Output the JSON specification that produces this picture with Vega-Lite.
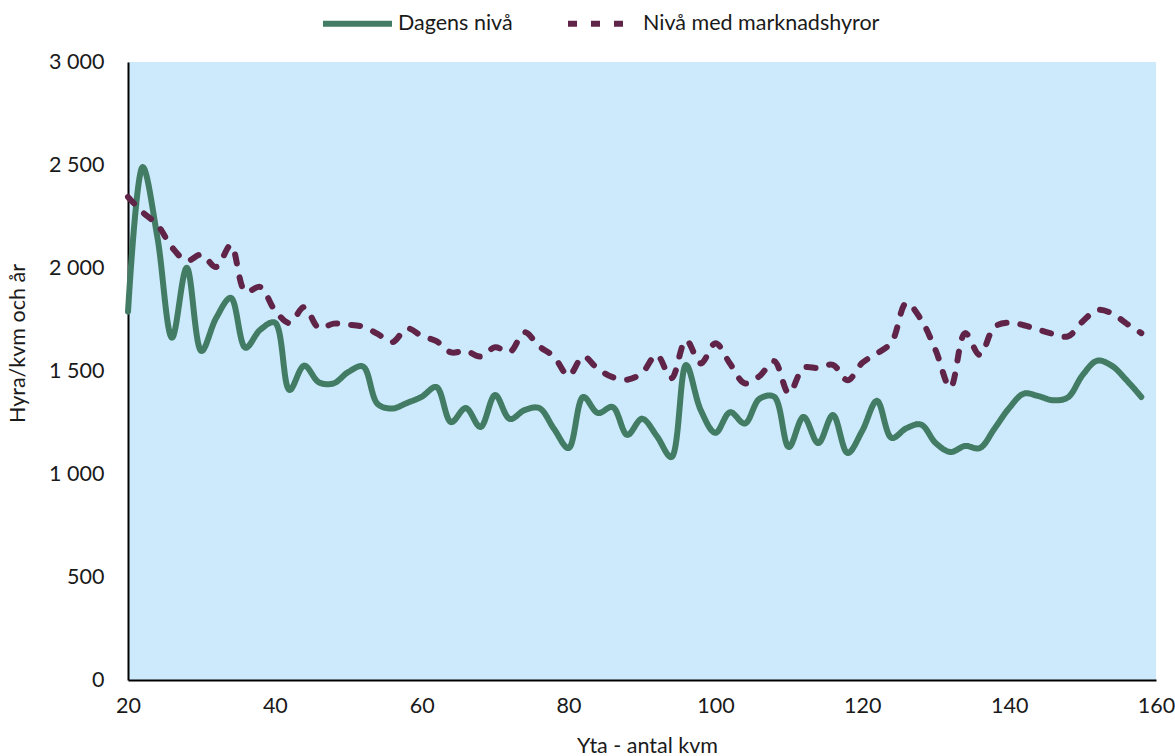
{
  "$schema": "https://vega.github.io/schema/vega-lite/v6.json",
  "width": 1028,
  "height": 618,
  "autosize": "none",
  "padding": {"left": 128, "top": 62, "right": 19, "bottom": 76},
  "background": "white",
  "config": {
    "view": {"fill": "#cceafb", "stroke": null},
    "font": "Lato",
    "axis": {"labelColor": "#1a1a1a", "titleColor": "#1a1a1a", "labelFont": "Lato", "titleFont": "Lato", "titleFontWeight": "normal"},
    "legend": {"labelColor": "#1a1a1a", "labelFont": "Lato"}
  },
  "data": {
    "values": [
      {"kvm": 20, "Dagens nivå": 1788, "Nivå med marknadshyror": 2345},
      {"kvm": 22, "Dagens nivå": 2490, "Nivå med marknadshyror": 2270},
      {"kvm": 24, "Dagens nivå": 2150, "Nivå med marknadshyror": 2210},
      {"kvm": 26, "Dagens nivå": 1662, "Nivå med marknadshyror": 2100},
      {"kvm": 28, "Dagens nivå": 2001, "Nivå med marknadshyror": 2035},
      {"kvm": 30, "Dagens nivå": 1597, "Nivå med marknadshyror": 2065},
      {"kvm": 32, "Dagens nivå": 1757, "Nivå med marknadshyror": 2005},
      {"kvm": 34, "Dagens nivå": 1855, "Nivå med marknadshyror": 2110},
      {"kvm": 36, "Dagens nivå": 1613, "Nivå med marknadshyror": 1885},
      {"kvm": 38, "Dagens nivå": 1700, "Nivå med marknadshyror": 1908},
      {"kvm": 40, "Dagens nivå": 1735, "Nivå med marknadshyror": 1795},
      {"kvm": 42, "Dagens nivå": 1408, "Nivå med marknadshyror": 1733},
      {"kvm": 44, "Dagens nivå": 1526, "Nivå med marknadshyror": 1810},
      {"kvm": 46, "Dagens nivå": 1445, "Nivå med marknadshyror": 1709},
      {"kvm": 48, "Dagens nivå": 1440, "Nivå med marknadshyror": 1730},
      {"kvm": 50, "Dagens nivå": 1495, "Nivå med marknadshyror": 1725},
      {"kvm": 52, "Dagens nivå": 1522, "Nivå med marknadshyror": 1715},
      {"kvm": 54, "Dagens nivå": 1340, "Nivå med marknadshyror": 1680},
      {"kvm": 56, "Dagens nivå": 1318, "Nivå med marknadshyror": 1640},
      {"kvm": 58, "Dagens nivå": 1345, "Nivå med marknadshyror": 1707},
      {"kvm": 60, "Dagens nivå": 1375, "Nivå med marknadshyror": 1670},
      {"kvm": 62, "Dagens nivå": 1422, "Nivå med marknadshyror": 1645},
      {"kvm": 64, "Dagens nivå": 1252, "Nivå med marknadshyror": 1590},
      {"kvm": 66, "Dagens nivå": 1320, "Nivå med marknadshyror": 1598},
      {"kvm": 68, "Dagens nivå": 1228, "Nivå med marknadshyror": 1570},
      {"kvm": 70, "Dagens nivå": 1383, "Nivå med marknadshyror": 1615},
      {"kvm": 72, "Dagens nivå": 1267, "Nivå med marknadshyror": 1592},
      {"kvm": 74, "Dagens nivå": 1310, "Nivå med marknadshyror": 1688},
      {"kvm": 76, "Dagens nivå": 1320, "Nivå med marknadshyror": 1620},
      {"kvm": 78, "Dagens nivå": 1220, "Nivå med marknadshyror": 1570},
      {"kvm": 80, "Dagens nivå": 1126, "Nivå med marknadshyror": 1478},
      {"kvm": 82, "Dagens nivå": 1374, "Nivå med marknadshyror": 1570},
      {"kvm": 84, "Dagens nivå": 1296, "Nivå med marknadshyror": 1510},
      {"kvm": 86, "Dagens nivå": 1325, "Nivå med marknadshyror": 1470},
      {"kvm": 88, "Dagens nivå": 1190, "Nivå med marknadshyror": 1458},
      {"kvm": 90, "Dagens nivå": 1268, "Nivå med marknadshyror": 1490},
      {"kvm": 92, "Dagens nivå": 1185, "Nivå med marknadshyror": 1578},
      {"kvm": 94, "Dagens nivå": 1082, "Nivå med marknadshyror": 1465},
      {"kvm": 96, "Dagens nivå": 1529, "Nivå med marknadshyror": 1650},
      {"kvm": 98, "Dagens nivå": 1310, "Nivå med marknadshyror": 1537},
      {"kvm": 100, "Dagens nivå": 1200, "Nivå med marknadshyror": 1635},
      {"kvm": 102, "Dagens nivå": 1300, "Nivå med marknadshyror": 1535},
      {"kvm": 104, "Dagens nivå": 1245, "Nivå med marknadshyror": 1440},
      {"kvm": 106, "Dagens nivå": 1365, "Nivå med marknadshyror": 1475},
      {"kvm": 108, "Dagens nivå": 1375, "Nivå med marknadshyror": 1548},
      {"kvm": 110, "Dagens nivå": 1131, "Nivå med marknadshyror": 1392},
      {"kvm": 112, "Dagens nivå": 1277, "Nivå med marknadshyror": 1515},
      {"kvm": 114, "Dagens nivå": 1150, "Nivå med marknadshyror": 1515},
      {"kvm": 116, "Dagens nivå": 1286, "Nivå med marknadshyror": 1530},
      {"kvm": 118, "Dagens nivå": 1102, "Nivå med marknadshyror": 1455},
      {"kvm": 120, "Dagens nivå": 1210, "Nivå med marknadshyror": 1540},
      {"kvm": 122, "Dagens nivå": 1355, "Nivå med marknadshyror": 1585},
      {"kvm": 124, "Dagens nivå": 1175, "Nivå med marknadshyror": 1640},
      {"kvm": 126, "Dagens nivå": 1222, "Nivå med marknadshyror": 1830},
      {"kvm": 128, "Dagens nivå": 1240, "Nivå med marknadshyror": 1750},
      {"kvm": 130, "Dagens nivå": 1150, "Nivå med marknadshyror": 1600},
      {"kvm": 132, "Dagens nivå": 1107, "Nivå med marknadshyror": 1420},
      {"kvm": 134, "Dagens nivå": 1136, "Nivå med marknadshyror": 1684},
      {"kvm": 136, "Dagens nivå": 1126, "Nivå med marknadshyror": 1578},
      {"kvm": 138, "Dagens nivå": 1220, "Nivå med marknadshyror": 1714},
      {"kvm": 140, "Dagens nivå": 1320, "Nivå med marknadshyror": 1735},
      {"kvm": 142, "Dagens nivå": 1390, "Nivå med marknadshyror": 1722},
      {"kvm": 144, "Dagens nivå": 1378, "Nivå med marknadshyror": 1700},
      {"kvm": 146, "Dagens nivå": 1358, "Nivå med marknadshyror": 1680},
      {"kvm": 148, "Dagens nivå": 1372, "Nivå med marknadshyror": 1668},
      {"kvm": 150, "Dagens nivå": 1480, "Nivå med marknadshyror": 1740},
      {"kvm": 152, "Dagens nivå": 1550, "Nivå med marknadshyror": 1796},
      {"kvm": 154, "Dagens nivå": 1525, "Nivå med marknadshyror": 1780},
      {"kvm": 156, "Dagens nivå": 1455, "Nivå med marknadshyror": 1730},
      {"kvm": 158, "Dagens nivå": 1374, "Nivå med marknadshyror": 1684}
    ]
  },
  "transform": [
    {"fold": ["Dagens nivå", "Nivå med marknadshyror"], "as": ["serie", "hyra"]}
  ],
  "mark": {"type": "line", "interpolate": "catmull-rom", "strokeWidth": 6, "strokeCap": "round", "strokeJoin": "round"},
  "encoding": {
    "x": {
      "field": "kvm",
      "type": "quantitative",
      "scale": {"domain": [20, 160], "nice": false, "zero": false},
      "axis": {
        "values": [20, 40, 60, 80, 100, 120, 140, 160],
        "title": "Yta - antal kvm",
        "grid": false,
        "ticks": false,
        "tickSize": 0,
        "domainColor": "#000000",
        "domainWidth": 2,
        "labelFontSize": 21.5,
        "labelPadding": 15,
        "labelFlush": false,
        "titleFontSize": 21.5,
        "titleX": 519,
        "titleY": 66,
        "titleBaseline": "middle",
        "titleAlign": "center"
      }
    },
    "y": {
      "field": "hyra",
      "type": "quantitative",
      "scale": {"domain": [0, 3000], "nice": false},
      "axis": {
        "values": [0, 500, 1000, 1500, 2000, 2500, 3000],
        "labelExpr": "replace(format(datum.value, ','), ',', ' ')",
        "title": "Hyra/kvm och år",
        "grid": false,
        "ticks": false,
        "tickSize": 0,
        "domainColor": "#000000",
        "domainWidth": 2,
        "labelFontSize": 21.5,
        "labelPadding": 24,
        "titleFontSize": 21.5,
        "titleX": -110,
        "titleY": 281,
        "titleAngle": -90,
        "titleBaseline": "middle",
        "titleAlign": "center"
      }
    },
    "color": {
      "field": "serie",
      "type": "nominal",
      "scale": {"domain": ["Dagens nivå", "Nivå med marknadshyror"], "range": ["#437c65", "#602448"]},
      "legend": {
        "title": null,
        "orient": "none",
        "direction": "horizontal",
        "legendX": 192,
        "legendY": -76,
        "symbolType": "stroke",
        "symbolSize": 4761,
        "symbolStrokeWidth": 6,
        "labelFontSize": 21.5,
        "labelOffset": 3,
        "labelLimit": 0,
        "columnPadding": 43,
        "padding": 0
      }
    },
    "strokeDash": {
      "field": "serie",
      "type": "nominal",
      "scale": {"domain": ["Dagens nivå", "Nivå med marknadshyror"], "range": [[1, 0], [9, 14]]},
      "legend": {
        "title": null,
        "orient": "none",
        "direction": "horizontal",
        "legendX": 192,
        "legendY": -76,
        "symbolType": "stroke",
        "symbolSize": 4761,
        "symbolStrokeWidth": 6,
        "labelFontSize": 21.5,
        "labelOffset": 3,
        "labelLimit": 0,
        "columnPadding": 43,
        "padding": 0
      }
    }
  }
}
